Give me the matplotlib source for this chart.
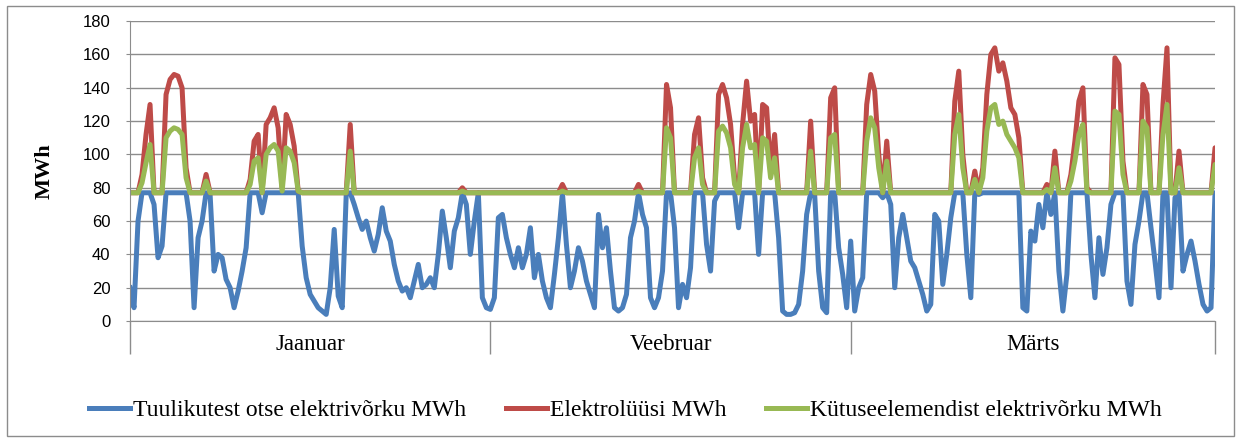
import numpy as np
import matplotlib.pyplot as plt
from matplotlib.patches import Rectangle

# hourly-ish samples (MWh)
blue = [20, 8, 60, 77, 77, 77, 70, 38, 45, 77,
        77, 77, 77, 77, 77, 60, 8, 50, 60, 77,
        76, 30, 40, 38, 25, 20, 8, 18, 30, 44,
        77, 77, 77, 65, 77, 77, 77, 77, 77, 77,
        77, 77, 77, 45, 26, 16, 12, 8, 6, 4,
        20, 55, 15, 8, 76, 77, 70, 62, 55, 60,
        50, 42, 52, 68, 54, 48, 34, 24, 18, 20,
        14, 24, 34, 20, 22, 26, 20, 40, 66, 50,
        32, 54, 62, 77, 70, 40, 60, 77, 14, 8,
        7, 14, 62, 64, 50, 40, 32, 44, 32, 40,
        56, 26, 40, 24, 14, 8, 28, 50, 77, 46,
        20, 30, 44, 36, 24, 16, 8, 64, 44, 56,
        30, 8, 6, 8, 16, 50, 60, 77, 64, 56,
        14, 8, 14, 30, 77, 77, 56, 8, 22, 14,
        32, 77, 77, 77, 46, 30, 72, 77, 77, 77,
        77, 77, 56, 77, 77, 77, 77, 40, 77, 77,
        77, 77, 50, 6, 4, 4, 5, 10, 30, 64,
        77, 76, 30, 8, 5, 77, 77, 44, 28, 8,
        48, 6, 20, 26, 77, 77, 77, 77, 74, 77,
        70, 20, 50, 64, 50, 36, 32, 24, 16, 6,
        10, 64, 60, 22, 40, 62, 77, 77, 77, 40,
        14, 77, 76, 77, 77, 77, 77, 77, 77, 77,
        77, 77, 77, 8, 6, 54, 48, 70, 56, 77,
        64, 77, 30, 6, 28, 77, 77, 77, 77, 77,
        40, 14, 50, 28, 44, 70, 77, 77, 77, 24,
        10, 46, 60, 77, 77, 56, 36, 14, 77, 77,
        20, 74, 77, 30, 40, 48, 36, 22, 10, 6,
        8, 77, 40]

red = [77, 77, 77, 88, 112, 130, 77, 77, 77, 136,
       145, 148, 147, 140, 92, 77, 77, 77, 77, 88,
       77, 77, 77, 77, 77, 77, 77, 77, 77, 77,
       85, 108, 112, 77, 118, 122, 128, 116, 80, 124,
       118, 105, 78, 77, 77, 77, 77, 77, 77, 77,
       77, 77, 77, 77, 77, 118, 77, 77, 77, 77,
       77, 77, 77, 77, 77, 77, 77, 77, 77, 77,
       77, 77, 77, 77, 77, 77, 77, 77, 77, 77,
       77, 77, 77, 80, 77, 77, 77, 77, 77, 77,
       77, 77, 77, 77, 77, 77, 77, 77, 77, 77,
       77, 77, 77, 77, 77, 77, 77, 77, 82, 77,
       77, 77, 77, 77, 77, 77, 77, 77, 77, 77,
       77, 77, 77, 77, 77, 77, 77, 82, 77, 77,
       77, 77, 77, 77, 142, 128, 77, 77, 77, 77,
       77, 112, 122, 86, 77, 77, 77, 136, 142, 134,
       118, 86, 77, 118, 144, 120, 124, 77, 130, 128,
       90, 112, 77, 77, 77, 77, 77, 77, 77, 77,
       120, 77, 77, 77, 77, 134, 140, 77, 77, 77,
       77, 77, 77, 77, 130, 148, 138, 100, 77, 108,
       77, 77, 77, 77, 77, 77, 77, 77, 77, 77,
       77, 77, 77, 77, 77, 77, 132, 150, 100, 77,
       77, 90, 77, 92, 136, 160, 164, 150, 155, 144,
       128, 124, 110, 77, 77, 77, 77, 77, 77, 82,
       77, 102, 77, 77, 77, 88, 108, 132, 140, 80,
       77, 77, 77, 77, 77, 77, 158, 154, 96, 77,
       77, 77, 77, 142, 136, 77, 77, 77, 130, 164,
       77, 77, 102, 77, 77, 77, 77, 77, 77, 77,
       77, 104, 77]

green = [77, 77, 77, 83, 95, 106, 77, 77, 77, 110,
         114, 116, 115, 112, 86, 77, 77, 77, 77, 84,
         77, 77, 77, 77, 77, 77, 77, 77, 77, 77,
         82, 96, 98, 77, 100, 104, 106, 102, 78, 104,
         102, 95, 78, 77, 77, 77, 77, 77, 77, 77,
         77, 77, 77, 77, 77, 102, 77, 77, 77, 77,
         77, 77, 77, 77, 77, 77, 77, 77, 77, 77,
         77, 77, 77, 77, 77, 77, 77, 77, 77, 77,
         77, 77, 77, 78, 77, 77, 77, 77, 77, 77,
         77, 77, 77, 77, 77, 77, 77, 77, 77, 77,
         77, 77, 77, 77, 77, 77, 77, 77, 78, 77,
         77, 77, 77, 77, 77, 77, 77, 77, 77, 77,
         77, 77, 77, 77, 77, 77, 77, 78, 77, 77,
         77, 77, 77, 77, 116, 110, 77, 77, 77, 77,
         77, 98, 104, 82, 77, 77, 77, 114, 117, 113,
         104, 82, 77, 104, 118, 104, 106, 77, 110, 108,
         86, 98, 77, 77, 77, 77, 77, 77, 77, 77,
         102, 77, 77, 77, 77, 110, 112, 77, 77, 77,
         77, 77, 77, 77, 108, 122, 116, 92, 77, 96,
         77, 77, 77, 77, 77, 77, 77, 77, 77, 77,
         77, 77, 77, 77, 77, 77, 112, 124, 92, 77,
         77, 85, 77, 86, 114, 128, 130, 118, 120, 112,
         108, 104, 98, 77, 77, 77, 77, 77, 77, 79,
         77, 92, 77, 77, 77, 84, 96, 112, 118, 78,
         77, 77, 77, 77, 77, 77, 126, 124, 88, 77,
         77, 77, 77, 120, 116, 77, 77, 77, 112, 130,
         77, 77, 92, 77, 77, 77, 77, 77, 77, 77,
         77, 94, 77]

months = ['Jaanuar', 'Veebruar', 'Märts']
month_edges = [0, 90, 180, 271]
labels = ['Tuulikutest otse elektrivõrku MWh', 'Elektrolüüsi MWh',
          'Kütuseelemendist elektrivõrku MWh']

fig = plt.figure(figsize=(12.43, 4.41), dpi=100)
ax = fig.add_axes([0.1046, 0.272, 0.8729, 0.68])

x = np.arange(len(blue))
ax.plot(x, blue, color='#4a7ebb', lw=3.6, label=labels[0], solid_joinstyle='round')
ax.plot(x, red, color='#be4b48', lw=3.6, label=labels[1], solid_joinstyle='round')
ax.plot(x, green, color='#98b954', lw=3.6, label=labels[2], solid_joinstyle='round')

ax.set_ylim(0, 180)
ax.set_xlim(month_edges[0], month_edges[-1])
ax.set_yticks(range(0, 181, 20))
ax.yaxis.grid(True, color='#8c8c8c', lw=1)
ax.set_axisbelow(True)
for s in ['top', 'right']:
    ax.spines[s].set_visible(False)
for s in ['left', 'bottom']:
    ax.spines[s].set_color('#8c8c8c')
ax.tick_params(axis='y', length=3, pad=11, color='#8c8c8c', labelsize=12)
for t in ax.get_yticklabels():
    t.set_fontfamily('Liberation Sans')

ax.set_xticks(month_edges)
ax.set_xticklabels([])
ax.tick_params(axis='x', which='major', length=24, color='#8c8c8c', width=1)
centers = [(month_edges[k] + month_edges[k + 1]) / 2 for k in range(3)]
ax.set_xticks(centers, minor=True)
ax.set_xticklabels(months, minor=True, fontfamily='Liberation Serif', fontsize=16.5)
ax.tick_params(axis='x', which='minor', length=0, pad=9)

ax.set_ylabel('MWh', fontfamily='Liberation Serif', fontweight='bold', fontsize=16, labelpad=20)

fig.legend(loc='center', bbox_to_anchor=(0.503, 0.07), ncol=3, frameon=False,
           prop={'family': 'Liberation Serif', 'size': 17}, handlelength=1.75,
           handletextpad=0.1, columnspacing=1.7)

fig.patches.append(Rectangle((7 / 1243, 5 / 441), 1227 / 1243, 430 / 441,
                             transform=fig.transFigure, fill=False,
                             edgecolor='#8c8c8c', lw=1))

fig.savefig('out.png', dpi=100)
